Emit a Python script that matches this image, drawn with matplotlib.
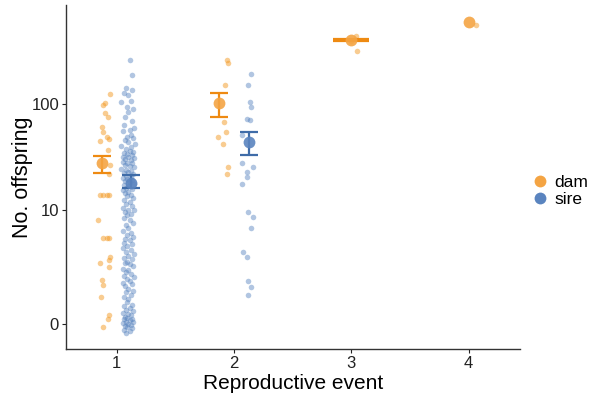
import matplotlib
matplotlib.use('Agg')
import matplotlib.pyplot as plt
import numpy as np
from matplotlib.lines import Line2D

plt.rcParams['font.family'] = ['Liberation Sans', 'DejaVu Sans']

# jittered raw points: x position, no. offspring
dam_x = [0.943, 0.900, 0.881, 0.900, 0.929, 0.872, 0.881, 0.915, 0.937, 0.858,
         0.929, 0.943, 0.937, 0.858, 0.881, 0.915, 0.937, 0.843, 0.881, 0.915,
         0.937, 0.943, 0.937, 0.858, 0.937, 0.872, 0.881, 0.865, 0.937, 0.929,
         0.881,
         1.944, 1.949, 1.920, 1.915, 1.932, 1.864, 1.904, 1.949, 1.944,
         3.040, 3.050, 3.000,
         4.060]
dam_y = [122.6, 101.3, 97.8, 82, 76.3, 60.8, 55.4, 49.1, 47.1, 45.7,
         37.4, 27, 22.2, 14, 14, 14, 14, 7.85, 5.07, 5.07,
         5.07, 3.1, 2.8, 2.57, 2.32, 1.52, 1.27, 0.77, 0.21, 0.10,
         -0.06,
         253, 236, 149, 68.6, 55.4, 49.8, 42.6, 25.7, 22.1,
         420, 305, 380,
         530]

sire_x = [1.11, 1.13, 1.08, 1.13, 1.06, 1.10, 1.04, 1.12,
          1.09, 1.14, 1.10, 1.07, 1.13, 1.06, 1.15, 1.11,
          1.05, 1.12, 1.09, 1.14, 1.07, 1.10, 1.16, 1.04, 1.12, 1.08,
          1.11, 1.14, 1.06, 1.09, 1.13, 1.05, 1.10, 1.15, 1.07, 1.12,
          1.05, 1.09, 1.13, 1.07, 1.11, 1.15, 1.04, 1.08, 1.12, 1.10,
          1.06, 1.14, 1.08, 1.12, 1.05, 1.09, 1.13, 1.07, 1.11, 1.15,
          1.06, 1.10, 1.08, 1.13, 1.05,
          1.10, 1.07, 1.12, 1.09, 1.14, 1.06, 1.11, 1.08, 1.13, 1.05,
          1.10, 1.15, 1.07, 1.12, 1.09, 1.06, 1.11, 1.14, 1.08, 1.10,
          1.05, 1.12, 1.09, 1.14, 1.07, 1.11, 1.06, 1.13, 1.09, 1.05,
          1.12, 1.08, 1.15, 1.10, 1.06, 1.13, 1.09, 1.07, 1.11, 1.14,
          1.05, 1.10,
          1.08, 1.12, 1.06, 1.15, 1.09, 1.11, 1.05, 1.13, 1.07, 1.10,
          1.14, 1.08, 1.12, 1.06, 1.10,
          1.09, 1.13, 1.06, 1.11, 1.08, 1.14, 1.05, 1.10, 1.12, 1.07,
          1.09, 1.13, 1.06, 1.11, 1.08, 1.14, 1.05, 1.10, 1.12, 1.07,
          1.09, 1.13, 1.06, 1.11, 1.08,
          2.148, 2.119, 2.136, 2.142, 2.114, 2.136, 2.072, 2.072, 2.159, 2.108,
          2.108, 2.068, 2.123, 2.159, 2.142, 2.077, 2.108, 2.119, 2.148, 2.123]
sire_y = [253, 184, 140, 134, 126, 122, 104, 106,
          94, 90, 84, 76, 70, 64, 60, 57,
          56, 52, 50, 48, 46, 44.5, 43, 41, 40, 38,
          37, 36, 35, 34, 33.5, 32.5, 32, 31.5, 30.5, 30,
          29, 28.5, 28, 27, 26.5, 26, 25, 24.5, 24, 23,
          22.5, 22, 21.5, 21, 20.4, 20, 19.5, 19, 18.6, 18,
          17.5, 17, 16.5, 16, 15.6,
          15, 14.5, 14, 13.5, 13, 12.5, 12, 11.5, 11, 10.5,
          10, 9.9, 9.5, 9, 8.8, 8.2, 7.85, 7.4, 7, 6.5,
          6.1, 5.8, 5.5, 5.2, 5, 4.8, 4.5, 4.3, 4.1, 3.9,
          3.7, 3.5, 3.3, 3.2, 3, 2.9, 2.7, 2.6, 2.5, 2.35,
          2.2, 2.1,
          2, 1.85, 1.75, 1.7, 1.55, 1.45, 1.35, 1.3, 1.2, 1.1,
          1.0, 0.95, 0.85, 0.75, 0.68,
          0.6, 0.5, 0.45, 0.4, 0.35, 0.3, 0.27, 0.24, 0.2, 0.17,
          0.14, 0.12, 0.1, 0.08, 0.05, 0.04, 0.02, 0.0, -0.02, -0.04,
          -0.07, -0.09, -0.11, -0.14, -0.17,
          188, 149, 103.5, 93, 72, 71, 51.6, 28.4, 26.1, 23.1,
          20.7, 17.8, 9.54, 8.49, 6.44, 3.55, 3.10, 1.48, 1.19, 0.84]

# means and intervals per reproductive event
dam_event = [1, 2, 3, 4]
dam_mean = [28.3, 101, 385, 565]
dam_lo = [22.9, 76.3, 375, np.nan]
dam_hi = [32.9, 125, 395, np.nan]

sire_event = [1, 2]
sire_mean = [18.1, 44.7]
sire_lo = [16.5, 33.6]
sire_hi = [21.8, 55.4]

dam_pt, dam_line, dam_dot = '#F39A24', '#EE8A12', '#F4A443'
sire_pt, sire_line, sire_dot = '#5380BD', '#3F6CA8', '#5A84BF'


def fwd(v):
    return np.log10(np.asarray(v, dtype=float) + 1)


def inv(v):
    return 10 ** np.asarray(v, dtype=float) - 1


fig = plt.figure(figsize=(5.92, 3.97), dpi=100)
ax = fig.add_axes([66 / 592, 1 - 349 / 397, (520 - 66) / 592, (349 - 5) / 397])
ax.set_yscale('function', functions=(fwd, inv))

ax.scatter(dam_x, dam_y, s=16, color=dam_pt, alpha=0.5, linewidths=0, zorder=2)
ax.scatter(sire_x, sire_y, s=16, color=sire_pt, alpha=0.45, linewidths=0, zorder=2)

# dodged positions when both sexes present
dam_pos = [e - 0.125 if e in sire_event else e for e in dam_event]
sire_pos = [e + 0.125 for e in sire_event]

for i, (p, m, lo, hi) in enumerate(zip(dam_pos, dam_mean, dam_lo, dam_hi)):
    if not np.isnan(lo):
        cap = 6.8 if dam_event[i] in sire_event else 13
        ax.errorbar([p], [m], yerr=[[m - lo], [hi - m]], fmt='none',
                    ecolor=dam_line, elinewidth=1.6, capsize=cap, capthick=1.6, zorder=3)
for p, m, lo, hi in zip(sire_pos, sire_mean, sire_lo, sire_hi):
    ax.errorbar([p], [m], yerr=[[m - lo], [hi - m]], fmt='none',
                ecolor=sire_line, elinewidth=1.6, capsize=6.8, capthick=1.6, zorder=3)

ax.plot(dam_pos, dam_mean, 'o', ms=8.5, color=dam_dot, alpha=0.9, mew=0, zorder=4)
ax.plot(sire_pos, sire_mean, 'o', ms=8.5, color=sire_dot, alpha=0.9, mew=0, zorder=4)

ax.set_xlim(0.568, 4.437)
ax.set_ylim(-0.408, 803)
ax.set_xticks([1, 2, 3, 4])
ax.set_yticks([0, 10, 100])
ax.set_yticklabels(['0', '10', '100'])
ax.minorticks_off()
ax.tick_params(labelsize=12, colors='#222222', length=3, width=0.8, pad=2)
for s in ['top', 'right']:
    ax.spines[s].set_visible(False)
for s in ['left', 'bottom']:
    ax.spines[s].set_color('#333333')
    ax.spines[s].set_linewidth(1.0)

ax.set_xlabel('Reproductive event', fontsize=15, labelpad=2)
ax.set_ylabel('No. offspring', fontsize=15.5)
ax.yaxis.set_label_coords(-0.073, 0.5)

handles = [Line2D([], [], marker='o', ls='', ms=8.5, color=dam_dot, mew=0),
           Line2D([], [], marker='o', ls='', ms=8.5, color=sire_dot, mew=0)]
fig.legend(handles, ['dam', 'sire'], loc='center left',
           bbox_to_anchor=(526 / 592, 1 - 191 / 397), frameon=False,
           fontsize=12.5, handletextpad=0.35, labelspacing=0.15, handlelength=1.0,
           borderaxespad=0, borderpad=0.3)

fig.savefig('out.png', dpi=100)
plt.close(fig)
